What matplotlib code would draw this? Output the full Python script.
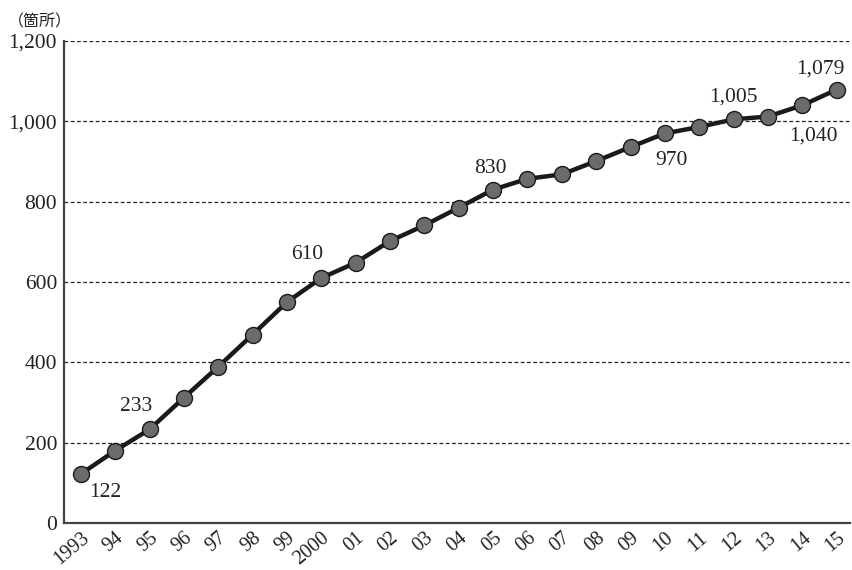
import matplotlib
matplotlib.use('Agg')
import matplotlib.pyplot as plt

years = ['1993', '94', '95', '96', '97', '98', '99', '2000', '01', '02', '03',
         '04', '05', '06', '07', '08', '09', '10', '11', '12', '13', '14', '15']
counts = [122, 180, 233, 312, 389, 469, 550, 610, 648, 702, 741,
          785, 830, 857, 868, 901, 936, 970, 986, 1005, 1012, 1040, 1079]

# labelled points: index -> pixel offset of the label
labels = {0: (24, -19), 2: (-13, 23), 7: (-14, 23), 12: (-3, 21),
          17: (7, -27), 19: (0, 22), 21: (11, -31), 22: (-16, 21)}

fonts = ['Liberation Serif', 'Noto Sans CJK JP', 'DejaVu Sans']
plt.rcParams['font.family'] = fonts

fig = plt.figure(figsize=(8.52, 5.70), dpi=100)
ax = fig.add_axes([0.0751, 0.0825, 0.923, 0.8455])

x = list(range(len(years)))
ax.plot(x, counts, color='#1a1a1a', lw=3.2, marker='o', ms=11.5,
        mfc='#6b6b6b', mec='#1a1a1a', mew=1.0, zorder=3)

for i, (dx, dy) in labels.items():
    ax.annotate(f'{counts[i]:,}', (x[i], counts[i]), xytext=(dx, dy),
                textcoords='offset pixels', ha='center', va='center',
                fontsize=15.5, color='#222222')

ax.set_xlim(-0.49, 22.4)
ax.set_ylim(0, 1200)
ax.set_yticks(range(0, 1201, 200))
ax.set_yticklabels([f'{v:,}' for v in range(0, 1201, 200)], fontsize=15.5)
ax.set_xticks(x)
ax.set_xticklabels(years, fontsize=14.5, rotation=40, ha='right', va='top',
                   rotation_mode='anchor')
ax.tick_params(axis='both', length=0, colors='#222222')
ax.tick_params(axis='y', pad=5)
ax.tick_params(axis='x', pad=4)

ax.grid(axis='y', ls=(0, (3, 2)), color='#222222', lw=0.9)
ax.set_axisbelow(True)
for s in ['top', 'right']:
    ax.spines[s].set_visible(False)
for s in ['left', 'bottom']:
    ax.spines[s].set_color('#444444')
    ax.spines[s].set_linewidth(1.6)

fig.text(0.047, 0.962, '（箇所）', ha='center', va='center', fontsize=11.5,
         color='#222222', family=['Noto Sans CJK JP', 'DejaVu Sans'])

fig.savefig('out.png', dpi=100)
